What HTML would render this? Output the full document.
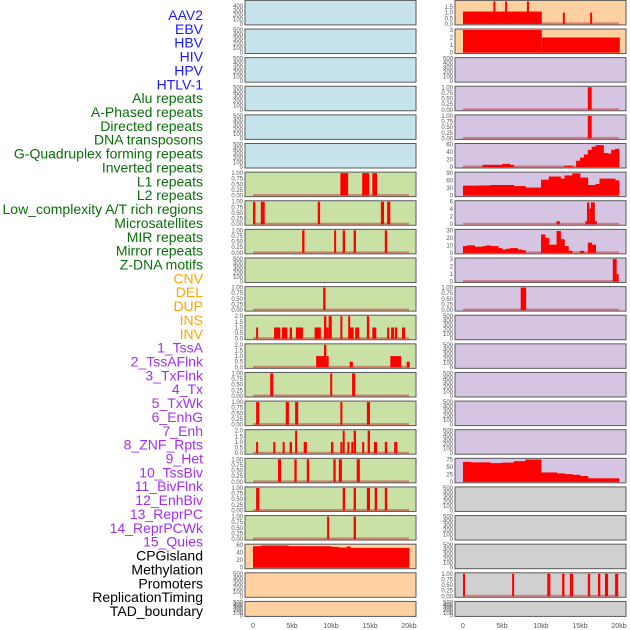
<!DOCTYPE html>
<html><head><meta charset="utf-8"><style>
html,body{margin:0;padding:0;background:#fff;width:630px;height:630px;overflow:hidden}
svg{display:block;font-family:"Liberation Sans",sans-serif}
</style></head><body>
<svg id="chart" width="630" height="630" viewBox="0 0 630 630"></svg>
<script>
// ---- data ----
const trackLabels = ["AAV2","EBV","HBV","HIV","HPV","HTLV-1","Alu repeats","A-Phased repeats","Directed repeats","DNA transposons","G-Quadruplex forming repeats","Inverted repeats","L1 repeats","L2 repeats","Low_complexity A/T rich regions","Microsatellites","MIR repeats","Mirror repeats","Z-DNA motifs","CNV","DEL","DUP","INS","INV","1_TssA","2_TssAFlnk","3_TxFlnk","4_Tx","5_TxWk","6_EnhG","7_Enh","8_ZNF_Rpts","9_Het","10_TssBiv","11_BivFlnk","12_EnhBiv","13_ReprPC","14_ReprPCWk","15_Quies","CPGisland","Methylation","Promoters","ReplicationTiming","TAD_boundary"];
const xTickLabels = ["0","5kb","10kb","15kb","20kb"];
const xTickValues = [0,5,10,15,20];
const ticksEmpty = ["0","100","200","300","400","500"];
const ticks01 = ["0.00","0.25","0.50","0.75","1.00"];
const ticks02 = ["0.0","0.5","1.0","1.5","2.0"];
// spike segments: [startKb, endKb, value]
const spikesL6 = [[11.2,12.2,1],[14.0,14.9,1],[15.3,15.9,1]];
const spikesL7 = [[0.0,0.3,1],[1.0,1.5,1],[8.3,8.6,1],[16.4,16.8,1],[17.2,17.6,1]];
const spikesL8 = [[6.3,6.6,1],[10.4,10.6,1],[11.5,11.8,1],[12.9,13.2,1],[16.9,17.2,1]];
const spikesL10 = [[9.0,9.3,1]];
const spikesL11 = [[0.4,0.6,1],[2.7,3.5,1],[3.7,4.4,1],[4.7,5.0,1],[5.5,6.4,1],[7.9,8.7,1],[9.1,9.4,2],[9.4,9.7,1],[9.7,10.1,2],[11.2,11.4,2],[12.2,12.4,2],[12.4,12.9,1],[13.1,13.6,1],[14.6,14.9,2],[15.3,15.8,1],[17.2,17.4,1],[17.7,18.1,1],[18.2,18.5,1],[19.1,19.5,1]];
const spikesL12 = [[8.1,9.1,1],[9.1,9.4,2],[9.4,9.7,1],[12.4,12.8,0.5],[17.6,19.0,1],[19.7,20.1,0.5]];
const spikesL13 = [[2.2,2.6,1],[9.9,10.1,1],[12.7,13.1,1]];
const spikesL14 = [[0.4,0.8,1],[4.2,4.6,1],[5.4,5.8,1],[11.2,11.4,1],[14.6,15.0,1]];
const spikesL15 = [[0.4,0.6,1],[2.6,2.8,1],[3.8,4.0,1],[4.7,5.0,1],[5.4,5.6,2],[6.5,6.9,1],[10.0,10.3,1],[11.2,11.4,1],[11.5,11.7,2],[12.1,12.3,1],[12.6,12.8,1],[12.9,13.2,2],[14.0,14.2,1],[14.7,15.0,2],[15.5,15.9,1],[16.9,17.2,1],[18.1,18.5,1]];
const spikesL16 = [[3.2,3.6,1],[5.3,5.6,1],[6.9,7.2,1],[10.3,10.6,1],[11.0,11.4,1],[13.3,13.7,1]];
const spikesL17 = [[0.4,0.8,1],[11.5,11.8,1],[12.9,13.2,1],[14.6,15.0,1],[15.6,15.9,1],[16.9,17.2,1]];
const spikesL18 = [[9.5,9.7,1],[12.9,13.2,1]];
const cpgValues = [63,63,65,65,65,65,65,65,65,63,63,63,63,63,63,63,63,63,63,63,61,61,59,59,62,58,58,58,58,58,58,58,58,58,58,58,58,58,58,58];
const insSpikes = [[0,10.1,1.1],[3.9,4.1,2],[5.4,5.6,2],[8.2,8.4,2],[12.8,13.0,1],[16.3,16.5,1]];
const invSpikes = [[0,10.1,3],[10.1,20.1,2]];
const txFlnk2Spikes = [[16.0,16.5,1]];
const txFlnk3Spikes = [[16.0,16.5,1]];
const txValues = [0,0,0,0,0,7,7,7,7,7,10,10,7,0,0,0,0,0,0,0,0,0,0,0,0,0,4,4,0,20,30,40,55,65,70,70,45,43,55,58];
const txWkValues = [47,47,47,47,48,48,48,50,50,50,50,50,50,45,45,45,38,38,38,38,75,75,90,90,90,80,95,95,105,105,85,85,50,50,55,80,80,80,80,72];
const enhGSpikes = [[12.0,12.4,1],[15.7,15.9,1],[15.9,16.2,7],[16.2,16.4,5],[16.4,16.9,7],[16.9,17.1,1]];
const enhValues = [10,11,11,9,9,10,11,10,10,7,5,6,7,7,5,4,0,0,0,0,27,22,12,12,32,20,10,3,0,0,3,0,15,12,0,0,0,0,0,0];
const znfSpikes = [[19.2,19.7,3],[19.7,19.9,1]];
const hetSpikes = [[7.4,8.1,1]];
const quiesValues = [85,85,83,83,83,83,83,80,80,80,82,82,82,88,88,88,95,95,95,95,40,40,40,40,36,36,33,33,30,30,25,25,15,15,15,15,15,15,15,15];
const replSpikes = [[0,0.2,1],[6.3,6.5,1],[10.8,11.2,1],[12.7,13.0,1],[13.7,14.1,1],[16.0,16.3,1],[17.3,17.6,1],[18.2,18.6,1],[19.5,19.9,1]];

// ---- layout ----
const NS = "http://www.w3.org/2000/svg";
const svg = document.getElementById("chart");
const colX = [245, 455];
const panelW = 171;
const BG = {blue:"#c7e4ec", green:"#c9e1a4", orange:"#ffd0a0", purple:"#d5c5e2", gray:"#d0d0d0"};
const labelColors = {blue:"#1a1aff", green:"#0a6e0a", orange:"#ffa500", purple:"#a030f0", black:"#000"};

function el(tag, attrs, parent){const e=document.createElementNS(NS,tag);for(const k in attrs)e.setAttribute(k,attrs[k]);(parent||svg).appendChild(e);return e;}
function xS(col, kb){return colX[col] + 8 + kb * 7.8;}
function rowTop(r){return 0.4 + r * 28.62;}
function rowH(r){return r === 21 ? 15 : 24.5;}

// panel config: [col,row,name,bg,type,dataRef,ymax,ticks]
const panels = [];
const leftBg = r => r < 6 ? "blue" : (r < 19 ? "green" : "orange");
const rightBg = r => r < 2 ? "orange" : (r < 17 ? "purple" : "gray");
for (let r = 0; r < 22; r++) {
  panels.push({col:0,row:r,name:trackLabels[r],bg:leftBg(r),type:"empty"});
  panels.push({col:1,row:r,name:trackLabels[22+r],bg:rightBg(r),type:"empty"});
}
function setP(col,row,type,data,ymax,ticks){const p=panels.find(q=>q.col===col&&q.row===row);p.type=type;p.data=data;p.ymax=ymax;p.ticks=ticks;}
setP(0,6,"spikes",spikesL6,1,ticks01);
setP(0,7,"spikes",spikesL7,1,ticks01);
setP(0,8,"spikes",spikesL8,1,ticks01);
setP(0,10,"spikes",spikesL10,1,ticks01);
setP(0,11,"spikes",spikesL11,2,ticks02);
setP(0,12,"spikes",spikesL12,2,ticks02);
setP(0,13,"spikes",spikesL13,1,ticks01);
setP(0,14,"spikes",spikesL14,1,ticks01);
setP(0,15,"spikes",spikesL15,2,ticks02);
setP(0,16,"spikes",spikesL16,1,ticks01);
setP(0,17,"spikes",spikesL17,1,ticks01);
setP(0,18,"spikes",spikesL18,1,ticks01);
setP(0,19,"area",cpgValues,66,["0","20","40","60"]);
setP(1,0,"spikes",insSpikes,2,ticks02);
setP(1,1,"spikes",invSpikes,3,["0","1","2","3"]);
setP(1,3,"spikes",txFlnk2Spikes,1,ticks01);
setP(1,4,"spikes",txFlnk3Spikes,1,ticks01);
setP(1,5,"area",txValues,72,["0","20","40","60"]);
setP(1,6,"area",txWkValues,106,["0","30","60","90"]);
setP(1,7,"spikes",enhGSpikes,7.2,["0","2","4","6"]);
setP(1,8,"area",enhValues,33,["0","10","20","30"]);
setP(1,9,"spikes",znfSpikes,3,["0","1","2","3"]);
setP(1,10,"spikes",hetSpikes,1,ticks01);
setP(1,16,"area",quiesValues,96,["0","25","50","75"]);
setP(1,20,"spikes",replSpikes,1,ticks01);

panels.forEach(p => {
  const top = rowTop(p.row), h = rowH(p.row), x0 = colX[p.col];
  const slug = p.name.toLowerCase().replace(/[^a-z0-9]+/g,'-').replace(/^-|-$/g,'');
  const g = el("g",{});
  
  
  el("rect",{x:x0,y:top,width:panelW,height:h,fill:BG[p.bg],stroke:"#5a5a5a","stroke-width":1},g);
  const yS = v => top + h - 1 - v / p.ymax * (h - 2);
  // tick labels
  const tl = p.type === "empty" ? ticksEmpty : p.ticks;
  tl.forEach((t,i) => {
    const y = top + h - 1 - i / (tl.length - 1) * (h - 2) + 2;
    if (y < 4) return;
    const tx = el("text",{x:x0-2,y:y,"font-size":6,fill:"#555","text-anchor":"end"},g);
    tx.textContent = t;
    
    
  });
  if (p.type === "empty") return;
  // baseline
  const bl = el("line",{x1:xS(p.col,0),x2:xS(p.col,20),y1:top+h-1.5,y2:top+h-1.5,stroke:"rgba(200,60,60,0.55)","stroke-width":2},g);
  
  
  if (p.type === "spikes") {
    p.data.forEach(s => {
      const xa = xS(p.col,s[0]), xb = xS(p.col,s[1]);
      const w = Math.max(2, xb - xa);
      const r = el("rect",{x:xa,y:yS(s[2]),width:w,height:yS(0)-yS(s[2]),fill:"#ff0000"},g);
      
      
    });
  } else {
    p.data.forEach((v,i) => {
      if (v <= 0) return;
      const xa = xS(p.col,i*0.5), xb = xS(p.col,(i+1)*0.5);
      const r = el("rect",{x:xa,y:yS(v),width:xb-xa+0.4,height:yS(0)-yS(v),fill:"#ff0000"},g);
      
      
    });
  }
});

// track labels
trackLabels.forEach((t,i) => {
  const c = i < 6 ? "blue" : i < 19 ? "green" : i < 24 ? "orange" : i < 39 ? "purple" : "black";
  const tx = el("text",{x:203,y:15 + i*13.86 + 5,"font-size":14,fill:labelColors[c],"text-anchor":"end"});
  tx.textContent = t;
  
  
});

// x axis labels
[0,1].forEach(col => {
  xTickValues.forEach((v,i) => {
    const tx = el("text",{x:xS(col,v),y:628,"font-size":7,fill:"#555","text-anchor":"middle"});
    tx.textContent = xTickLabels[i];
    
    
  });
});
</script>
</body></html>
